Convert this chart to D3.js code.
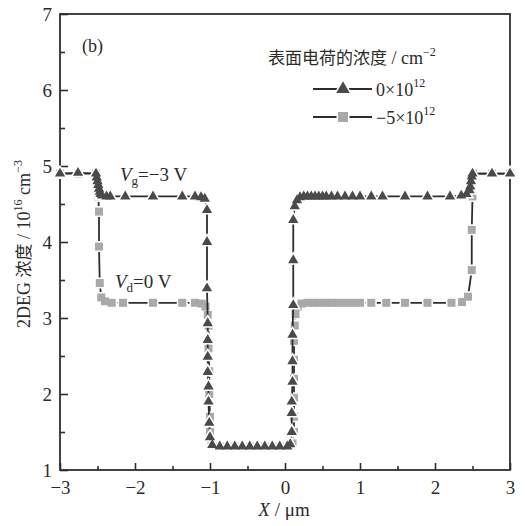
<!DOCTYPE html>
<html lang="zh">
<head>
    <meta charset="UTF-8">
    <title>2DEG</title>
    <script type="text/javascript" src="https://cdn.jsdelivr.net/npm/d3@7"></script>
    <style type="text/css">
        body {margin: 0; background: #fff;}
        text {font-family: "Liberation Serif", "DejaVu Serif", serif; fill: #2b2b2b;}
        .cjk {font-family: "Noto Sans CJK SC", sans-serif;}
    </style>
</head>
<body>
    <script type="text/javascript">

        // series: surface charge 0x10^12 (triangles)
        var triX = [-3.0, -2.76, -2.52, -2.51, -2.5, -2.49, -2.48, -2.47, -2.46, -2.44, -2.38, -2.33, -2.13, -1.76, -1.37, -1.2, -1.12, -1.07,
            -1.04, -1.04, -1.04, -1.03, -1.03, -1.03, -1.03, -1.02, -1.02, -1.01, -1.0, -0.97,
            -0.87, -0.77, -0.67, -0.57, -0.47, -0.37, -0.27, -0.17, -0.07, 0.03, 0.07,
            0.09, 0.09, 0.09, 0.1, 0.1, 0.1, 0.11, 0.11, 0.11, 0.13, 0.16, 0.2,
            0.25, 0.3, 0.35, 0.4, 0.45, 0.5, 0.55, 0.62, 0.7, 0.8, 0.9, 1.0, 1.15, 1.3,
            1.6, 1.9, 2.2, 2.35, 2.42, 2.46, 2.47, 2.48, 2.49, 2.5, 2.76, 3.0];
        var triY = [4.9, 4.91, 4.9, 4.85, 4.8, 4.75, 4.7, 4.66, 4.63, 4.61, 4.6, 4.6, 4.6, 4.6, 4.6, 4.6, 4.59, 4.57,
            4.42, 4.0, 3.39, 2.93, 2.71, 2.49, 2.29, 2.1, 1.9, 1.62, 1.43, 1.33,
            1.31, 1.31, 1.31, 1.31, 1.31, 1.31, 1.31, 1.31, 1.31, 1.31, 1.34,
            1.5, 1.75, 1.9, 2.16, 2.43, 2.78, 3.17, 3.76, 4.29, 4.47, 4.55, 4.59,
            4.6, 4.6, 4.6, 4.6, 4.6, 4.6, 4.6, 4.6, 4.6, 4.6, 4.6, 4.6, 4.6, 4.6,
            4.6, 4.6, 4.6, 4.61, 4.63, 4.68, 4.73, 4.8, 4.86, 4.9, 4.9, 4.9];

        // series: surface charge -5x10^12 (squares)
        var sqX = [-3.0, -2.76, -2.52, -2.5, -2.49, -2.48, -2.48, -2.47, -2.45, -2.4, -2.31, -2.16, -1.76, -1.37, -1.2, -1.11, -1.06,
            -1.03, -1.02, -1.02, -1.01, -1.01, -1.0, -1.0, -0.98,
            -0.87, -0.67, -0.47, -0.27, -0.07, 0.07,
            0.1, 0.12, 0.12, 0.12, 0.12, 0.12, 0.12, 0.13, 0.14, 0.17, 0.22,
            0.3, 0.38, 0.46, 0.54, 0.62, 0.7, 0.8, 0.9, 1.0, 1.15, 1.35,
            1.6, 1.9, 2.22, 2.36, 2.44, 2.49, 2.49, 2.5, 2.51, 2.76, 3.0];
        var sqY = [4.9, 4.9, 4.9, 4.75, 4.6, 4.4, 3.94, 3.46, 3.27, 3.22, 3.2, 3.2, 3.2, 3.2, 3.2, 3.19, 3.15,
            3.04, 2.9, 2.6, 2.3, 2.0, 1.7, 1.5, 1.35,
            1.31, 1.31, 1.31, 1.31, 1.31, 1.31,
            1.35, 1.5, 1.7, 1.95, 2.2, 2.45, 2.7, 2.9, 3.05, 3.15, 3.19,
            3.2, 3.2, 3.2, 3.2, 3.2, 3.2, 3.2, 3.2, 3.2, 3.2, 3.2,
            3.2, 3.2, 3.2, 3.21, 3.28, 3.63, 4.16, 4.6, 4.9, 4.9, 4.9];

        var xTicks = [-3, -2, -1, 0, 1, 2, 3];
        var yTicks = [1, 2, 3, 4, 5, 6, 7];
        var xMinor = [-2.5, -1.5, -0.5, 0.5, 1.5, 2.5];
        var yMinor = [1.5, 2.5, 3.5, 4.5, 5.5, 6.5];
        var legendLabels = ["0×10", "−5×10"];

        //Width and height
        var w = 525;
        var h = 526;
        var mLeft = 60, mRight = 510, mTop = 14, mBottom = 470;

        var triColor = "#4a4a4a";
        var sqColor = "#a9a9a9";
        var lineColor = "#2e2e2e";

        var svg = d3.select("body")
            .append("svg")
            .attr("width", w)
            .attr("height", h);

        var x = d3.scaleLinear().domain([-3, 3]).range([mLeft, mRight]);
        var y = d3.scaleLinear().domain([1, 7]).range([mBottom, mTop]);
        var fmt = d3.format("d");

        // axes with inward ticks
        var gx = svg.append("g")
            .attr("transform", "translate(0," + mBottom + ")")
            .call(d3.axisBottom(x).tickValues(xTicks).tickFormat(fmt).tickSize(-7).tickPadding(11));
        svg.append("g")
            .attr("transform", "translate(0," + mBottom + ")")
            .call(d3.axisBottom(x).tickValues(xMinor).tickSize(-4).tickFormat(""));
        var gy = svg.append("g")
            .attr("transform", "translate(" + mLeft + ",0)")
            .call(d3.axisLeft(y).tickValues(yTicks).tickFormat(fmt).tickSize(-8).tickPadding(8));
        svg.append("g")
            .attr("transform", "translate(" + mLeft + ",0)")
            .call(d3.axisLeft(y).tickValues(yMinor).tickSize(-5).tickFormat(""));

        svg.selectAll(".domain").remove();
        svg.selectAll(".tick line").attr("stroke", lineColor).attr("stroke-width", 1.6);
        svg.selectAll(".tick text")
            .attr("font-family", "Liberation Serif, serif")
            .attr("font-size", "19px")
            .attr("fill", "#2b2b2b");
        gx.selectAll(".tick text").attr("dy", "0.71em");
        gy.selectAll(".tick text").attr("dy", "0.34em");

        // frame
        svg.append("rect")
            .attr("x", mLeft)
            .attr("y", mTop)
            .attr("width", mRight - mLeft)
            .attr("height", mBottom - mTop)
            .attr("fill", "none")
            .attr("stroke", lineColor)
            .attr("stroke-width", 1.8);

        var line = d3.line()
            .x(function(d) { return x(d[0]); })
            .y(function(d) { return y(d[1]); });

        var triData = d3.zip(triX, triY);
        var sqData = d3.zip(sqX, sqY);

        var triangle = d3.symbol().type(d3.symbolTriangle).size(46);
        var square = d3.symbol().type(d3.symbolSquare).size(64);

        function drawSeries(data, sym, color) {
            var g = svg.append("g");
            g.append("path")
                .attr("d", line(data))
                .attr("fill", "none")
                .attr("stroke", lineColor)
                .attr("stroke-width", 1.8);
            g.selectAll(".halo")
                .data(data)
                .enter()
                .append("path")
                .attr("class", "halo")
                .attr("d", sym())
                .attr("transform", function(d) { return "translate(" + x(d[0]) + "," + y(d[1]) + ")"; })
                .attr("fill", "#fff")
                .attr("stroke", "#fff")
                .attr("stroke-width", 3);
            g.selectAll(".mark")
                .data(data)
                .enter()
                .append("path")
                .attr("class", "mark")
                .attr("d", sym())
                .attr("transform", function(d) { return "translate(" + x(d[0]) + "," + y(d[1]) + ")"; })
                .attr("fill", color);
        }

        drawSeries(sqData, square, sqColor);
        drawSeries(triData, triangle, triColor);

        // panel label
        svg.append("text")
            .attr("x", 82)
            .attr("y", 52)
            .attr("font-size", "18px")
            .text("(b)");

        // legend
        var legend = svg.append("g");
        var title = legend.append("text")
            .attr("x", 268)
            .attr("y", 64)
            .attr("font-size", "18px");
        title.append("tspan").attr("class", "cjk").attr("font-size", "17px").text("表面电荷的浓度");
        title.append("tspan").text(" / cm");
        title.append("tspan").attr("font-size", "12px").attr("dy", -8).text("−2");

        var legendSyms = [d3.symbol().type(d3.symbolTriangle).size(80), d3.symbol().type(d3.symbolSquare).size(100)];
        var legendColors = [triColor, sqColor];
        legendLabels.forEach(function(lab, i) {
            var ly = 89 + i * 28;
            legend.append("line")
                .attr("x1", 313).attr("x2", 372)
                .attr("y1", ly).attr("y2", ly)
                .attr("stroke", lineColor)
                .attr("stroke-width", 1.8);
            legend.append("path")
                .attr("d", legendSyms[i]())
                .attr("transform", "translate(343," + ly + ")")
                .attr("fill", legendColors[i])
                .attr("stroke", "#fff")
                .attr("stroke-width", 3)
                .attr("paint-order", "stroke");
            var t = legend.append("text")
                .attr("x", 376)
                .attr("y", ly + 7)
                .attr("font-size", "18px");
            t.append("tspan").text(lab);
            t.append("tspan").attr("font-size", "12px").attr("dy", -9).text("12");
        });

        // annotations
        var vg = svg.append("text")
            .attr("x", 120)
            .attr("y", 181)
            .attr("font-size", "19px");
        vg.append("tspan").attr("font-style", "italic").text("V");
        vg.append("tspan").attr("font-size", "13px").attr("dy", 4).text("g");
        vg.append("tspan").attr("dy", -4).text("=−3 V");

        var vd = svg.append("text")
            .attr("x", 115)
            .attr("y", 288)
            .attr("font-size", "19px");
        vd.append("tspan").attr("font-style", "italic").text("V");
        vd.append("tspan").attr("font-size", "13px").attr("dy", 4).text("d");
        vd.append("tspan").attr("dy", -4).text("=0 V");

        // axis titles
        var xl = svg.append("text")
            .attr("x", 284)
            .attr("y", 516)
            .attr("text-anchor", "middle")
            .attr("font-size", "19px");
        xl.append("tspan").attr("font-style", "italic").text("X");
        xl.append("tspan").text(" / μm");

        var yl = svg.append("text")
            .attr("transform", "translate(30,244) rotate(-90)")
            .attr("text-anchor", "middle")
            .attr("font-size", "18px");
        yl.append("tspan").text("2DEG ");
        yl.append("tspan").attr("class", "cjk").attr("font-size", "17px").text("浓度");
        yl.append("tspan").text(" / 10");
        yl.append("tspan").attr("font-size", "12px").attr("dy", -8).text("16");
        yl.append("tspan").attr("dy", 8).text(" cm");
        yl.append("tspan").attr("font-size", "12px").attr("dy", -8).text("−3");

    </script>
</body>
</html>
